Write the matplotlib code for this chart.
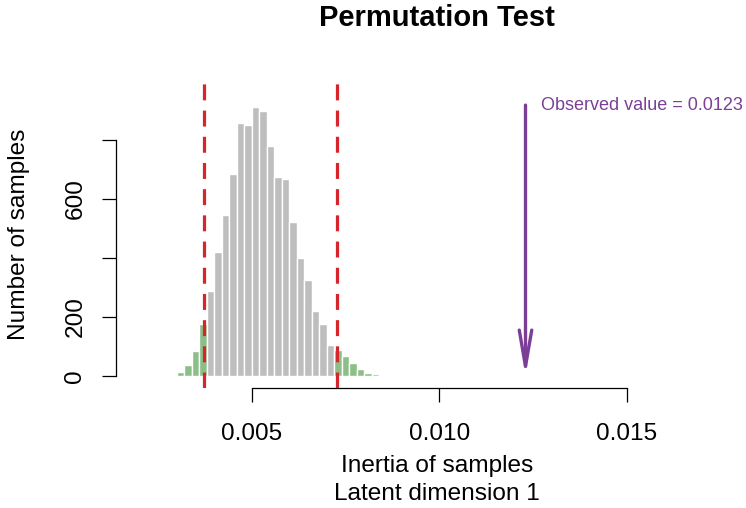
import numpy as np
import matplotlib
matplotlib.use("Agg")
from matplotlib import pyplot as plt

plt.rcParams['font.family'] = ['Liberation Sans', 'DejaVu Sans']

# histogram of permuted inertias (bins of 0.0002 starting at 0.0028)
BIN_START = 0.0028
BIN_WIDTH = 0.0002
counts = [5, 12, 37, 85, 175, 288, 419, 544, 683, 855, 850, 910, 897, 779,
          673, 667, 520, 400, 325, 220, 175, 105, 89, 67, 45, 25, 11, 6, 5]
lower_q = 0.00372
upper_q = 0.00728
observed = 0.0123
arrow_top = 917

y_ticks = [0, 200, 400, 600, 800]
y_labels = ['0', '200', '', '600', '']
x_ticks = [0.005, 0.010, 0.015]
x_labels = ['0.005', '0.010', '0.015']

GRAY = '#BEBEBE'
GREEN = '#8CBF88'
RED = '#D7262B'
PURPLE = '#7B3F98'

edges = BIN_START + BIN_WIDTH * np.arange(len(counts))
colors = []
for left in edges:
    right = left + BIN_WIDTH
    if left < lower_q - 1e-12 or right > upper_q + 1e-12:
        colors.append(GREEN)
    else:
        colors.append(GRAY)

fig = plt.figure(figsize=(7.46, 5.08), dpi=100)
# plot region runs a bit past the right edge of the picture
ax = fig.add_axes([116 / 746, 120 / 508, 642 / 746, 308 / 508])

ax.bar(edges, counts, width=BIN_WIDTH, align='edge', color=colors,
       edgecolor='white', linewidth=1.0, zorder=2)

for q in (lower_q, upper_q):
    ax.axvline(q, color=RED, lw=2.3, dashes=(5.0, 3.2), zorder=3)

ax.annotate('', xy=(observed, 0), xytext=(observed, arrow_top),
            arrowprops=dict(arrowstyle='->, head_length=2.6, head_width=0.45',
                            color=PURPLE, lw=2.4, shrinkA=0, shrinkB=0,
                            mutation_scale=10), zorder=4)
ax.annotate('Observed value = %.4f' % observed, xy=(observed, arrow_top),
            xytext=(11, 0), textcoords='offset points', va='center',
            ha='left', color=PURPLE, fontsize=13, annotation_clip=False)

ax.set_xlim(0.00138, 0.0185)
ax.set_ylim(-40.6, 1002)

for side in ('top', 'right'):
    ax.spines[side].set_visible(False)
ax.spines['left'].set_bounds(0, 800)
ax.spines['bottom'].set_bounds(0.005, 0.015)
for side in ('left', 'bottom'):
    ax.spines[side].set_linewidth(0.9)

ax.set_yticks(y_ticks)
ax.set_yticklabels(y_labels, rotation=90, va='center')
ax.set_xticks(x_ticks)
ax.set_xticklabels(x_labels)
ax.tick_params(axis='both', length=10.3, width=0.9, labelsize=17.6)
ax.tick_params(axis='y', pad=11)
ax.tick_params(axis='x', pad=15)

ax.set_title('Permutation Test', fontsize=21, fontweight='bold', pad=39)
ax.set_xlabel('Inertia of samples\nLatent dimension 1', fontsize=17.6,
              linespacing=1.35, labelpad=7)
ax.set_ylabel('Number of samples', fontsize=17.6, labelpad=25)

fig.savefig('out.png', dpi=100)
